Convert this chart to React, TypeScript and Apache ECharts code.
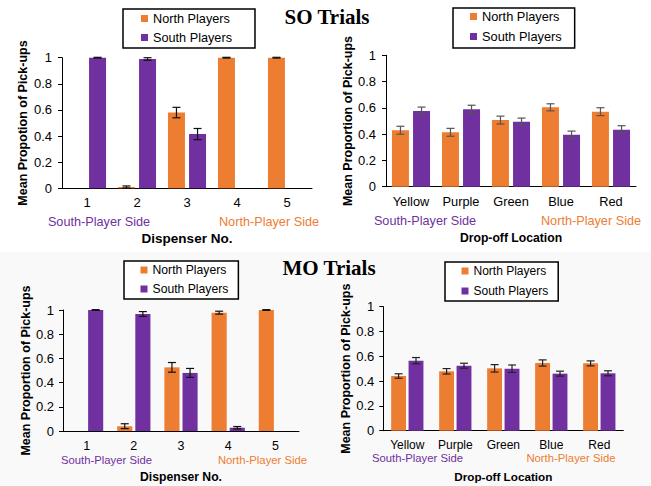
import React, { useEffect, useRef } from 'react';
import * as echarts from 'echarts';

// ---------- data ----------
const dispensers = ['1', '2', '3', '4', '5'];
const locations = ['Yellow', 'Purple', 'Green', 'Blue', 'Red'];
const seriesNames = ['North Players', 'South Players'];

const soDispNorth = [0, 0.01, 0.58, 1, 1];
const soDispNorthErr = [0, 0.008, 0.04, 0.003, 0.003];
const soDispSouth = [1, 0.99, 0.415, 0, 0];
const soDispSouthErr = [0.003, 0.01, 0.043, 0, 0];

const soLocNorth = [0.43, 0.414, 0.507, 0.604, 0.571];
const soLocNorthErr = [0.03, 0.03, 0.03, 0.027, 0.03];
const soLocSouth = [0.576, 0.59, 0.495, 0.396, 0.434];
const soLocSouthErr = [0.03, 0.03, 0.027, 0.027, 0.03];

const moDispNorth = [0, 0.04, 0.526, 0.978, 1];
const moDispNorthErr = [0, 0.02, 0.04, 0.012, 0.003];
const moDispSouth = [1, 0.967, 0.48, 0.027, 0];
const moDispSouthErr = [0.003, 0.02, 0.037, 0.01, 0];

const moLocNorth = [0.441, 0.479, 0.503, 0.546, 0.543];
const moLocNorthErr = [0.018, 0.022, 0.03, 0.025, 0.02];
const moLocSouth = [0.565, 0.524, 0.5, 0.46, 0.463];
const moLocSouthErr = [0.025, 0.02, 0.03, 0.02, 0.02];

// ---------- styles ----------
const ORANGE = '#ED7D31';
const PURPLE = '#7030A0';
const FONT = '"Liberation Sans", Arial, sans-serif';

type Panel = {
  grid: { left: number; top: number; width: number; height: number };
  cats: string[];
  north: number[];
  northErr: number[];
  south: number[];
  southErr: number[];
  barPct: number;
  gapPct: number;
  errColor: string;
  xName: string;
  xNameGap: number;
  xNameSize: number;
  xLabelSize: number;
  xLabelMargin: number;
  yName: string;
  yNameGap: number;
  yLabelMargin: number;
};

const panels: Panel[] = [
  {
    grid: { left: 62, top: 57.7, width: 250, height: 130.6 },
    cats: dispensers, north: soDispNorth, northErr: soDispNorthErr, south: soDispSouth, southErr: soDispSouthErr,
    barPct: 0.34, gapPct: 0.24, errColor: '#111',
    xName: 'Dispenser No.', xNameGap: 43, xNameSize: 13.5, xLabelSize: 13, xLabelMargin: 8,
    yName: 'Mean Propotion of Pick-ups', yNameGap: 33, yLabelMargin: 10,
  },
  {
    grid: { left: 386, top: 55.3, width: 250, height: 131.4 },
    cats: locations, north: soLocNorth, northErr: soLocNorthErr, south: soLocSouth, southErr: soLocSouthErr,
    barPct: 0.34, gapPct: 0.24, errColor: '#555',
    xName: 'Drop-off Location', xNameGap: 45, xNameSize: 12.2, xLabelSize: 12.8, xLabelMargin: 8,
    yName: 'Mean Proportion of Pick-ups', yNameGap: 31, yLabelMargin: 10,
  },
  {
    grid: { left: 63, top: 310, width: 236, height: 121 },
    cats: dispensers, north: moDispNorth, northErr: moDispNorthErr, south: moDispSouth, southErr: moDispSouthErr,
    barPct: 0.32, gapPct: 0.2, errColor: '#111',
    xName: 'Dispenser No.', xNameGap: 40, xNameSize: 12.2, xLabelSize: 12.5, xLabelMargin: 8,
    yName: 'Mean Proportion of Pick-ups', yNameGap: 30, yLabelMargin: 9,
  },
  {
    grid: { left: 383.3, top: 306.7, width: 240, height: 124 },
    cats: locations, north: moLocNorth, northErr: moLocNorthErr, south: moLocSouth, southErr: moLocSouthErr,
    barPct: 0.31, gapPct: 0.17, errColor: '#222',
    xName: 'Drop-off Location', xNameGap: 40, xNameSize: 11.7, xLabelSize: 12, xLabelMargin: 8,
    yName: 'Mean Proportion of Pick-ups', yNameGap: 27, yLabelMargin: 9,
  },
];

const legends = [
  { left: 123, top: 9, padding: [2, 23, 3, 18], itemGap: 4, fontSize: 12.7, lineHeight: 15 },
  { left: 453, top: 8, padding: [1, 13, 4, 17], itemGap: 5, fontSize: 12.8, lineHeight: 15 },
  { left: 124, top: 261, padding: [2, 10, 3, 16.5], itemGap: 5, fontSize: 12.2, lineHeight: 14 },
  { left: 445, top: 262, padding: [2, 10, 3, 16.5], itemGap: 6, fontSize: 12, lineHeight: 14 },
];

const sideLabels = [
  { x: 99, y: 222, size: 12.7, south: true },
  { x: 269, y: 222, size: 12.7, south: false },
  { x: 425, y: 221, size: 12.7, south: true },
  { x: 591, y: 221, size: 12.7, south: false },
  { x: 106.5, y: 460, size: 11.3, south: true },
  { x: 262.5, y: 460, size: 11.3, south: false },
  { x: 417.5, y: 458, size: 11.3, south: true },
  { x: 571, y: 458, size: 11.3, south: false },
];

function errSeries(pi: number, p: Panel, vals: number[], errs: number[], side: number) {
  return {
    type: 'custom',
    name: 'err' + pi + side,
    xAxisIndex: pi,
    yAxisIndex: pi,
    z: 5,
    silent: true,
    data: vals.map((v, i) => [i, v, errs[i]]).filter((d) => d[2] > 0),
    encode: { x: 0, y: 1 },
    renderItem: (params: any, api: any) => {
      const i = api.value(0);
      const v = api.value(1);
      const e = api.value(2);
      const band = api.size([1, 0])[0];
      const bw = band * p.barPct;
      const off = (side * (bw + bw * p.gapPct)) / 2;
      const p1 = api.coord([i, v + e]);
      const p2 = api.coord([i, v - e]);
      const x = p1[0] + off;
      const c = 4;
      const st = { stroke: p.errColor, lineWidth: 1.2 };
      return {
        type: 'group',
        children: [
          { type: 'line', shape: { x1: x, y1: p1[1], x2: x, y2: p2[1] }, style: st },
          { type: 'line', shape: { x1: x - c, y1: p1[1], x2: x + c, y2: p1[1] }, style: st },
          { type: 'line', shape: { x1: x - c, y1: p2[1], x2: x + c, y2: p2[1] }, style: st },
        ],
      };
    },
  };
}

function buildOption() {
  const grid: any[] = [];
  const xAxis: any[] = [];
  const yAxis: any[] = [];
  const series: any[] = [];
  panels.forEach((p, pi) => {
    grid.push({ ...p.grid, containLabel: false });
    xAxis.push({
      type: 'category',
      gridIndex: pi,
      data: p.cats,
      axisLine: { lineStyle: { color: '#000', width: 1 } },
      axisTick: { length: 5, lineStyle: { color: '#000' } },
      axisLabel: { fontSize: p.xLabelSize, color: '#000', margin: p.xLabelMargin, fontFamily: FONT },
      name: p.xName,
      nameLocation: 'middle',
      nameGap: p.xNameGap,
      nameTextStyle: { fontWeight: 'bold', fontSize: p.xNameSize, color: '#000', fontFamily: FONT },
    });
    yAxis.push({
      type: 'value',
      gridIndex: pi,
      min: 0,
      max: 1,
      interval: 0.2,
      axisLine: { show: true, lineStyle: { color: '#000', width: 1 } },
      axisTick: { show: true, length: 4, lineStyle: { color: '#000' } },
      splitLine: { show: false },
      axisLabel: { fontSize: 13, color: '#000', margin: p.yLabelMargin, fontFamily: FONT },
      name: p.yName,
      nameLocation: 'middle',
      nameRotate: 90,
      nameGap: p.yNameGap,
      nameTextStyle: { fontWeight: 'bold', fontSize: 12.5, color: '#000', fontFamily: FONT },
    });
    const barCommon = {
      type: 'bar',
      xAxisIndex: pi,
      yAxisIndex: pi,
      barWidth: p.barPct * 100 + '%',
      barGap: p.gapPct * 100 + '%',
    };
    series.push({ ...barCommon, name: seriesNames[0], data: p.north, itemStyle: { color: ORANGE } });
    series.push({ ...barCommon, name: seriesNames[1], data: p.south, itemStyle: { color: PURPLE } });
    series.push(errSeries(pi, p, p.north, p.northErr, -1));
    series.push(errSeries(pi, p, p.south, p.southErr, 1));
  });

  const legend = legends.map((l) => ({
    data: seriesNames,
    orient: 'vertical',
    left: l.left,
    top: l.top,
    padding: l.padding,
    itemGap: l.itemGap,
    itemWidth: 7,
    itemHeight: 7,
    icon: 'rect',
    borderColor: '#000',
    borderWidth: 1.5,
    backgroundColor: '#fff',
    selectedMode: false,
    textStyle: { fontSize: l.fontSize, lineHeight: l.lineHeight, color: '#000', fontFamily: FONT },
  }));

  const graphic: any[] = [
    { type: 'rect', silent: true, z: -10, shape: { x: 0, y: 252, width: 651, height: 234 }, style: { fill: '#f9f9f9' } },
    {
      type: 'text', x: 327, y: 17, z: 10,
      style: { text: 'SO Trials', font: 'bold 21px "Liberation Serif", "Times New Roman", serif', fill: '#000', align: 'center', verticalAlign: 'middle', textAlign: 'center', textVerticalAlign: 'middle' },
    },
    {
      type: 'text', x: 329, y: 268, z: 10,
      style: { text: 'MO Trials', font: 'bold 21px "Liberation Serif", "Times New Roman", serif', fill: '#000', align: 'center', verticalAlign: 'middle', textAlign: 'center', textVerticalAlign: 'middle' },
    },
  ];
  sideLabels.forEach((s) => {
    graphic.push({
      type: 'text', x: s.x, y: s.y, z: 10,
      style: {
        text: s.south ? 'South-Player Side' : 'North-Player Side',
        font: `${s.size}px ${FONT}`,
        fill: s.south ? PURPLE : ORANGE,
        align: 'center', verticalAlign: 'middle', textAlign: 'center', textVerticalAlign: 'middle',
      },
    });
  });

  return {
    animation: false,
    backgroundColor: '#ffffff',
    textStyle: { fontFamily: FONT },
    grid,
    xAxis,
    yAxis,
    legend,
    series,
    graphic,
  };
}

export default function App() {
  const ref = useRef<HTMLDivElement>(null);
  useEffect(() => {
    if (!ref.current) return;
    const chart = echarts.init(ref.current, undefined, { renderer: 'svg' });
    chart.setOption(buildOption() as any);
    return () => chart.dispose();
  }, []);
  return <div ref={ref} style={{ position: 'absolute', left: 0, top: 0, width: 651, height: 486 }} />;
}
